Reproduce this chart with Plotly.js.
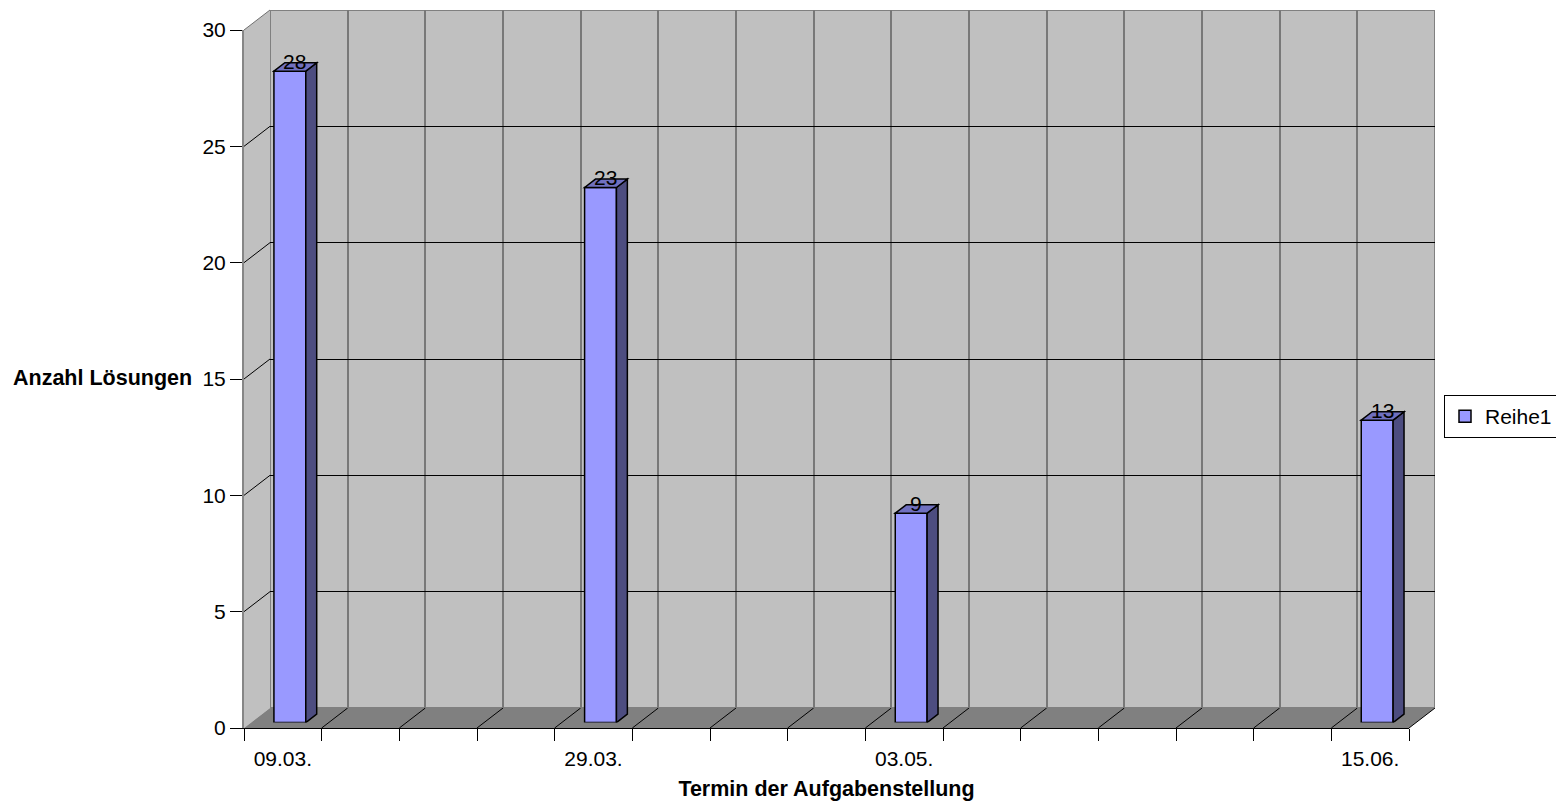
<!DOCTYPE html>
<html>
<head>
<meta charset="utf-8">
<script src="https://cdn.plot.ly/plotly-3.0.1.min.js"></script>
<style>html,body{margin:0;padding:0;background:#fff;}#chart{width:1556px;height:802px;}</style>
</head>
<body>
<div id="chart"></div>
<script>
// ---- data ----
const categories = ['09.03.', '', '', '', '29.03.', '', '', '', '03.05.', '', '', '', '', '', '15.06.'];
const values = [28, null, null, null, 23, null, null, null, 9, null, null, null, null, null, 13];
const yTicks = [0, 5, 10, 15, 20, 25, 30];
const seriesName = 'Reihe1';
const xTitle = 'Termin der Aufgabenstellung';
const yTitle = 'Anzahl Lösungen';

// ---- geometry (pixels) ----
const W = 1556, H = 802;
const FX0 = 244, FX1 = 1409, FY0 = 728, FY1 = 30; // front plane
const DX = 26, DY = 20;                            // depth of the 3D box
const BOFF = 0.27, BDEP = 0.42, BW = 0.41;         // bar depth offset, bar depth, bar width
const FONT = 'Liberation Sans, Arial, sans-serif';
const FS = 21;

const n = categories.length;
const yMax = yTicks[yTicks.length - 1];
const catPx = (FX1 - FX0) / n;
const unitPx = (FY0 - FY1) / yMax;
const X = p => p / W;
const Y = p => 1 - p / H;
const bx = DX * BOFF, by = DY * BOFF;
const ddx = DX * BDEP / catPx, ddy = DY * BDEP / unitPx;

const idx = categories.map((_, i) => i);
const boundaries = Array.from({length: n + 1}, (_, k) => k - 0.5);
const labelIdx = idx.filter(i => categories[i] !== '');

const shapes = [];
// left side wall
shapes.push({type: 'path', xref: 'paper', yref: 'paper', layer: 'below',
  path: `M ${X(FX0)} ${Y(FY0)} L ${X(FX0)} ${Y(FY1)} L ${X(FX0 + DX)} ${Y(FY1 - DY)} L ${X(FX0 + DX)} ${Y(FY0 - DY)} Z`,
  fillcolor: '#c0c0c0', line: {width: 0}});
// floor
shapes.push({type: 'path', xref: 'paper', yref: 'paper', layer: 'below',
  path: `M ${X(FX0)} ${Y(FY0)} L ${X(FX1)} ${Y(FY0)} L ${X(FX1 + DX)} ${Y(FY0 - DY)} L ${X(FX0 + DX)} ${Y(FY0 - DY)} Z`,
  fillcolor: '#808080', line: {width: 0}});
// floor grid diagonals
boundaries.slice(1).forEach(b => {
  const px = FX0 + (b + 0.5) * catPx;
  shapes.push({type: 'line', xref: 'paper', yref: 'paper', layer: 'below',
    x0: X(px), y0: Y(FY0), x1: X(px + DX), y1: Y(FY0 - DY), line: {color: '#000', width: 1}});
});
// side wall grid diagonals
yTicks.filter(v => v > 0).forEach(v => {
  const py = FY0 - v * unitPx;
  shapes.push({type: 'line', xref: 'paper', yref: 'paper', layer: 'below',
    x0: X(FX0), y0: Y(py), x1: X(FX0 + DX), y1: Y(py - DY),
    line: {color: v === yMax ? '#707070' : '#000', width: 1}});
});
// back wall
shapes.push({type: 'rect', xref: 'x', yref: 'y', layer: 'below',
  x0: -0.5, x1: n - 0.5, y0: 0, y1: yMax, fillcolor: '#c0c0c0', line: {color: '#808080', width: 2}});
// 3D faces of bars
const annotations = [];
values.forEach((v, i) => {
  if (v === null) return;
  const r = i + BW / 2, l = i - BW / 2;
  shapes.push({type: 'path', xref: 'x3', yref: 'y3',
    path: `M ${r} 0 L ${r + ddx} ${ddy} L ${r + ddx} ${v + ddy} L ${r} ${v} Z`,
    fillcolor: '#4d4d80', line: {color: '#000', width: 1.5}});
  shapes.push({type: 'path', xref: 'x3', yref: 'y3',
    path: `M ${l} ${v} L ${l + ddx} ${v + ddy} L ${r + ddx} ${v + ddy} L ${r} ${v} Z`,
    fillcolor: '#7070c0', line: {color: '#000', width: 1.5}});
  annotations.push({xref: 'x3', yref: 'y3', x: i + 5 / catPx, y: v, yshift: 9.5,
    text: String(v), showarrow: false, xanchor: 'center', yanchor: 'middle',
    font: {family: FONT, size: FS, color: '#000'}});
});
annotations.push({xref: 'paper', yref: 'paper', x: X(102), y: Y(378), text: '<b>' + yTitle + '</b>',
  showarrow: false, xanchor: 'center', yanchor: 'middle', font: {family: FONT, size: FS + 0.5, color: '#000'}});

const traces = [
  {type: 'bar', x: idx, y: values, xaxis: 'x3', yaxis: 'y3', width: BW, name: seriesName,
   marker: {color: '#9999ff', line: {color: '#000', width: 1.5}}, hoverinfo: 'none', showlegend: true},
  // empty traces so that the front-plane axes are created and drawn
  {type: 'scatter', mode: 'markers', x: [], y: [], xaxis: 'x2', yaxis: 'y2', showlegend: false, hoverinfo: 'skip'},
  {type: 'scatter', mode: 'markers', x: [], y: [], xaxis: 'x4', yaxis: 'y2', showlegend: false, hoverinfo: 'skip'}
];

const hidden = {showgrid: false, zeroline: false, showline: false, showticklabels: false, ticks: ''};
const layout = {
  width: W, height: H, margin: {l: 0, r: 0, t: 0, b: 0, autoexpand: false},
  paper_bgcolor: '#fff', plot_bgcolor: 'rgba(0,0,0,0)',
  font: {family: FONT, size: FS, color: '#000'},
  showlegend: true,
  // back wall
  xaxis: Object.assign({}, hidden, {domain: [X(FX0 + DX), X(FX1 + DX)], range: [-0.5, n - 0.5], anchor: 'y',
    showgrid: true, tickmode: 'array', tickvals: boundaries, gridcolor: '#787878', gridwidth: 2}),
  yaxis: Object.assign({}, hidden, {domain: [Y(FY0 - DY), Y(FY1 - DY)], range: [0, yMax], anchor: 'x',
    showgrid: true, tickmode: 'array', tickvals: yTicks.filter(v => v > 0 && v < yMax), gridcolor: '#000', gridwidth: 1}),
  // front plane axes
  xaxis2: {domain: [X(FX0), X(FX1)], range: [-0.5, n - 0.5], anchor: 'y2', tickmode: 'array',
    tickvals: boundaries, ticktext: boundaries.map(() => ''), ticks: 'outside', ticklen: 12, tickcolor: '#000', tickwidth: 1,
    showline: true, linecolor: '#000', linewidth: 1, showgrid: false, zeroline: false},
  yaxis2: {domain: [Y(FY0), Y(FY1)], range: [0, yMax], anchor: 'x2', tickmode: 'array', tickvals: yTicks,
    ticks: 'outside', ticklen: 12, tickcolor: '#000', tickwidth: 1, showline: true, linecolor: '#868686', linewidth: 2,
    showgrid: false, zeroline: false, tickfont: {family: FONT, size: FS, color: '#000'}},
  xaxis4: {overlaying: 'x2', anchor: 'y2', side: 'bottom', range: [-0.5, n - 0.5], tickmode: 'array',
    tickvals: labelIdx, ticktext: labelIdx.map(i => categories[i]), ticks: 'outside', ticklen: 12,
    tickcolor: 'rgba(0,0,0,0)', showline: false, showgrid: false, zeroline: false,
    tickfont: {family: FONT, size: FS, color: '#000'},
    title: {text: '<b>' + xTitle + '</b>', font: {family: FONT, size: FS + 0.5, color: '#000'}, standoff: 11}},
  // bars
  xaxis3: Object.assign({}, hidden, {domain: [X(FX0 + bx), X(FX1 + bx)], range: [-0.5, n - 0.5], anchor: 'y3'}),
  yaxis3: Object.assign({}, hidden, {domain: [Y(FY0 - by), Y(FY1 - by)], range: [0, yMax], anchor: 'x3'}),
  legend: {x: X(1444), xanchor: 'left', y: Y(416.5), yanchor: 'middle', bgcolor: '#fff',
    bordercolor: '#000', borderwidth: 1, font: {family: FONT, size: FS, color: '#000'}},
  shapes: shapes, annotations: annotations, bargap: 0
};
Plotly.newPlot('chart', traces, layout, {displayModeBar: false, staticPlot: true});
</script>
</body>
</html>
